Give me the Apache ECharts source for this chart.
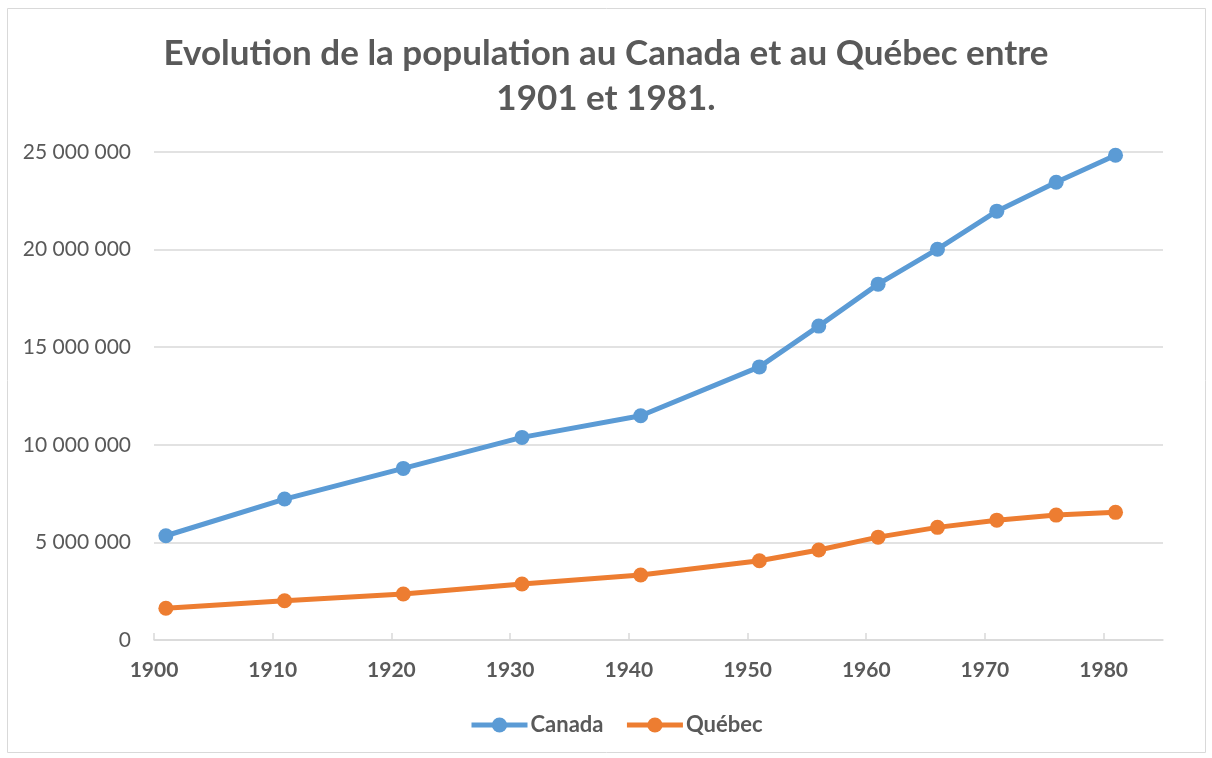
<!DOCTYPE html>
<html>
<head>
<meta charset="utf-8">
<script src="https://cdn.jsdelivr.net/npm/echarts@6/dist/echarts.min.js"></script>
<style>
  html, body { margin: 0; padding: 0; background: #fff; }
  #grafico_population { width: 1212px; height: 758px; }
</style>
</head>
<body>
<div id="grafico_population"></div>
<script>
var annees = [1901, 1911, 1921, 1931, 1941, 1951, 1956, 1961, 1966, 1971, 1976, 1981];
var canada = [5340000, 7220000, 8790000, 10380000, 11490000, 13990000, 16080000, 18230000, 20020000, 21970000, 23450000, 24830000];
var quebec = [1630000, 2010000, 2360000, 2870000, 3330000, 4060000, 4610000, 5270000, 5770000, 6140000, 6400000, 6540000];
var ticksX = [1900, 1910, 1920, 1930, 1940, 1950, 1960, 1970, 1980];

var gris = "#595959";
var police = "Lato, 'Open Sans', sans-serif";

function espaces(v) {
  return String(v).replace(/\B(?=(\d{3})+(?!\d))/g, " ");
}

/*TODO:Grafico linea*/
echarts.init(document.querySelector("#grafico_population")).setOption({
  animation: false,
  textStyle: { fontFamily: police },
  title: {
    text: "Evolution de la population au Canada et au Québec entre\n1901 et 1981.",
    left: "center",
    top: 26,
    textStyle: {
      color: gris,
      fontSize: 35,
      fontWeight: "bold",
      fontFamily: police,
      lineHeight: 45,
    },
  },
  graphic: [
    {
      type: "rect",
      shape: { x: 7.5, y: 8.5, width: 1198, height: 744 },
      style: { fill: "none", stroke: "#d9d9d9", lineWidth: 1 },
      silent: true,
    },
  ],
  legend: {
    top: 714,
    left: 469,
    padding: 0,
    itemWidth: 56,
    itemHeight: 19,
    itemGap: 21,
    lineStyle: { width: 5 },
    textStyle: { color: gris, fontSize: 22, fontWeight: "bold", fontFamily: police, padding: [0, 0, 0, -2] },
    data: ["Canada", "Québec"],
  },
  grid: { left: 154, right: 49, top: 152, bottom: 118, containLabel: false },
  xAxis: {
    type: "value",
    min: 1900,
    max: 1985,
    interval: 10,
    axisLine: { lineStyle: { color: "#d9d9d9", width: 1.5 } },
    axisTick: {
      inside: true,
      length: 7,
      customValues: ticksX,
      lineStyle: { color: "#d9d9d9", width: 1.5 },
    },
    axisLabel: {
      customValues: ticksX,
      color: gris,
      fontSize: 21,
      fontWeight: "bold",
      margin: 20,
      formatter: function (v) { return String(v); },
    },
    splitLine: { show: false },
  },
  yAxis: {
    type: "value",
    min: 0,
    max: 25000000,
    interval: 5000000,
    axisLine: { show: false },
    axisTick: { show: false },
    axisLabel: {
      color: gris,
      fontSize: 21,
      margin: 23,
      formatter: function (v) { return espaces(v); },
    },
    splitLine: { lineStyle: { color: "#d9d9d9", width: 1.5 } },
  },
  series: [
    {
      name: "Canada",
      type: "line",
      data: annees.map(function (a, i) { return [a, canada[i]]; }),
      symbol: "circle",
      symbolSize: 15,
      color: "#5B9BD5",
      lineStyle: { width: 5, color: "#5B9BD5" },
      itemStyle: { color: "#5B9BD5" },
    },
    {
      name: "Québec",
      type: "line",
      data: annees.map(function (a, i) { return [a, quebec[i]]; }),
      symbol: "circle",
      symbolSize: 15,
      color: "#ED7D31",
      lineStyle: { width: 5, color: "#ED7D31" },
      itemStyle: { color: "#ED7D31" },
    },
  ],
});
</script>
</body>
</html>
